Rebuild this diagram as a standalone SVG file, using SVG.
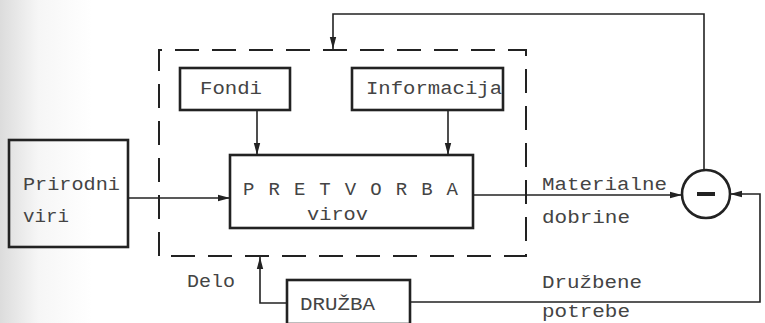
<svg xmlns="http://www.w3.org/2000/svg" width="765" height="323" viewBox="0 0 765 323">
<defs>
<linearGradient id="bg" x1="0" y1="0" x2="1" y2="0">
<stop offset="0" stop-color="#dcdcdc"/>
<stop offset="0.05" stop-color="#f6f6f6"/>
<stop offset="0.12" stop-color="#ffffff"/>
<stop offset="1" stop-color="#ffffff"/>
</linearGradient>
<marker id="ah" viewBox="0 0 12 8" refX="12" refY="4" markerWidth="12" markerHeight="8" markerUnits="userSpaceOnUse" orient="auto">
<path d="M0,0.8 L12,4 L0,7.2 Z" fill="#222"/>
</marker>
<style>
.box{fill:none;stroke:#222;stroke-width:2.6}
.con{fill:none;stroke:#222;stroke-width:1.6}
.dash{fill:none;stroke:#222;stroke-width:2;stroke-dasharray:24 13}
.t{font-family:"Liberation Mono","Courier New",monospace;font-size:19px;fill:#444}
</style>
</defs>
<rect width="765" height="323" fill="url(#bg)"/>
<g id="system">
<path class="dash" d="M159,256 L159,50 L526,50 L526,256 Z"/>
</g>
<g id="fondi">
<rect class="box" x="180" y="68" width="110" height="42"/>
<text class="t" x="200" y="94" textLength="62" lengthAdjust="spacingAndGlyphs">Fondi</text>
</g>
<g id="informacija">
<rect class="box" x="352" y="68" width="151" height="42"/>
<text class="t" x="366" y="94" textLength="136" lengthAdjust="spacingAndGlyphs">Informacija</text>
</g>
<g id="pretvorba">
<rect class="box" x="230" y="155" width="243" height="73"/>
<text class="t" x="243" y="195" textLength="215" lengthAdjust="spacing">P R E T V O R B A</text>
<text class="t" x="307" y="220" textLength="61" lengthAdjust="spacingAndGlyphs">virov</text>
</g>
<g id="prirodni">
<rect class="box" x="9" y="140" width="119" height="107"/>
<text class="t" x="23" y="190" textLength="97" lengthAdjust="spacingAndGlyphs">Prirodni</text>
<text class="t" x="23" y="222" textLength="46" lengthAdjust="spacingAndGlyphs">viri</text>
</g>
<g id="druzba">
<rect class="box" x="287" y="280" width="123" height="44"/>
<text class="t" x="300" y="310" textLength="75" lengthAdjust="spacingAndGlyphs">DRUŽBA</text>
</g>
<g id="comparator">
<circle cx="706" cy="194" r="24" fill="none" stroke="#222" stroke-width="2.6"/>
<line x1="697" y1="194" x2="715" y2="194" stroke="#222" stroke-width="4"/>
</g>
<g id="connectors">
<line class="con" x1="257" y1="110" x2="257" y2="155" marker-end="url(#ah)"/>
<line class="con" x1="448" y1="110" x2="448" y2="155" marker-end="url(#ah)"/>
<line class="con" x1="128" y1="198" x2="230" y2="198" marker-end="url(#ah)"/>
<line class="con" x1="473" y1="195" x2="682" y2="195" marker-end="url(#ah)"/>
<polyline class="con" points="704,170 704,14 333,14 333,49" marker-end="url(#ah)"/>
<polyline class="con" points="410,302 760,302 760,194 730,194" marker-end="url(#ah)"/>
<polyline class="con" points="287,303 260,303 260,257" marker-end="url(#ah)"/>
</g>
<g id="labels">
<text class="t" x="542" y="190" textLength="125" lengthAdjust="spacingAndGlyphs">Materialne</text>
<text class="t" x="542" y="223" textLength="88" lengthAdjust="spacingAndGlyphs">dobrine</text>
<text class="t" x="187" y="287" textLength="48" lengthAdjust="spacingAndGlyphs">Delo</text>
<text class="t" x="542" y="288" textLength="100" lengthAdjust="spacingAndGlyphs">Družbene</text>
<text class="t" x="542" y="317" textLength="88" lengthAdjust="spacingAndGlyphs">potrebe</text>
</g>
</svg>
